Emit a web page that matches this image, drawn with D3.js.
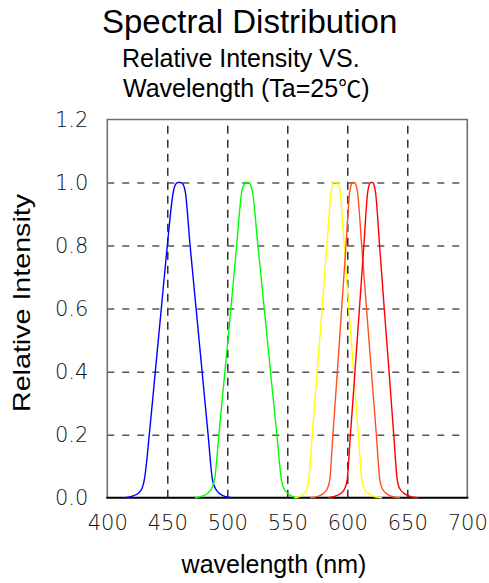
<!DOCTYPE html>
<html>
<head>
<meta charset="utf-8">
<script src="https://cdn.jsdelivr.net/npm/d3@7"></script>
<style>
html,body{margin:0;padding:0;background:#fff;}
svg{display:block;}
</style>
</head>
<body>
<svg id="chart" width="489" height="583"></svg>
<script>
// ---- data ----
const xTicks = [400, 450, 500, 550, 600, 650, 700];
const yTicks = [0.0, 0.2, 0.4, 0.6, 0.8, 1.0, 1.2];
const seriesNames = ["Blue", "Green", "Yellow", "Orange", "Red"];
const seriesColors = ["#0000ff", "#00ff00", "#ffff00", "#ff5020", "#ff0000"];
const blue = [[415,0],[421,0.005],[426,0.015],[429,0.03],[431,0.06],[435,0.2],[440,0.4],[445,0.6],[450,0.8],[455,0.97],[457,0.995],[459,1],[461,1],[463,0.995],[465,0.97],[469,0.8],[474,0.6],[479,0.4],[484,0.2],[487.5,0.06],[490,0.03],[494,0.012],[499,0.003],[504,0]];
const green = [[473,0],[479,0.005],[484,0.015],[487,0.03],[489.5,0.06],[493,0.2],[498,0.4],[503,0.6],[507.8,0.8],[512,0.97],[514,0.995],[515.5,1],[517.5,1],[519,0.995],[521,0.97],[525.5,0.8],[530.8,0.6],[536,0.4],[541.3,0.2],[545,0.06],[547,0.03],[551,0.012],[555,0.003],[559,0]];
const yellow = [[556,0],[561,0.005],[564.5,0.015],[566.5,0.03],[568,0.06],[570.8,0.2],[574.9,0.4],[579,0.6],[583,0.8],[586.5,0.97],[588,0.995],[589.5,1],[591,1],[592.5,0.995],[594,0.97],[597.4,0.8],[601.3,0.6],[605.3,0.4],[609.2,0.2],[612,0.06],[614,0.03],[618,0.012],[623,0.003],[629,0]];
const orange = [[569,0],[576,0.005],[580.5,0.015],[583.5,0.03],[585.5,0.06],[588,0.2],[591.7,0.4],[595.3,0.6],[598.9,0.8],[602,0.97],[603.5,0.995],[604.5,1],[606,1],[607,0.995],[608.5,0.97],[612,0.8],[616,0.6],[620.1,0.4],[624.2,0.2],[627,0.06],[629,0.03],[633,0.012],[638,0.003],[644,0]];
const red = [[584,0],[590,0.005],[595,0.015],[598,0.03],[600,0.06],[602.6,0.2],[606.4,0.4],[610.1,0.6],[613.8,0.8],[617,0.97],[618.5,0.995],[619.5,1],[621,1],[622,0.995],[623.5,0.97],[626.9,0.8],[630.8,0.6],[634.8,0.4],[638.7,0.2],[641.5,0.06],[643.5,0.03],[648,0.012],[653,0.003],[659,0]];
const seriesData = [blue, green, yellow, orange, red];

// ---- layout ----
const svg = d3.select("#chart");
const L = 107.3, R = 467.3, T = 119.5, B = 497.7;
const x = d3.scaleLinear().domain([400, 700]).range([L, R]);
const y = d3.scaleLinear().domain([0, 1.2]).range([B, T]);
const sans = "'Liberation Sans', Arial, sans-serif";

// titles
svg.append("text").attr("x", 102).attr("y", 33)
  .style("font-family", sans).style("font-size", "33px")
  .text("Spectral Distribution");
svg.append("text").attr("x", 122).attr("y", 67)
  .style("font-family", sans).style("font-size", "25px")
  .text("Relative Intensity VS.");
const sub2 = svg.append("text").attr("x", 123).attr("y", 97)
  .style("font-family", sans).style("font-size", "25px");
sub2.append("tspan").text("Wavelength (Ta=25");
sub2.append("tspan").style("font-family", "'Noto Sans CJK JP', sans-serif").style("font-size", "23px").text("℃");
sub2.append("tspan").text(")");

// grid
const gx = svg.append("g").attr("transform", `translate(0,${B})`)
  .call(d3.axisBottom(x).tickValues(xTicks.slice(1, -1)).tickSize(-(B - T)).tickFormat(""));
gx.select(".domain").remove();
gx.selectAll("line").attr("stroke", "#111").attr("stroke-width", 1.3).attr("stroke-dasharray", "8,6");
const gy = svg.append("g").attr("transform", `translate(${L},0)`)
  .call(d3.axisLeft(y).tickValues(yTicks.slice(1, -1)).tickSize(-(R - L)).tickFormat(""));
gy.select(".domain").remove();
gy.selectAll("line").attr("stroke", "#555").attr("stroke-width", 1.5).attr("stroke-dasharray", "7,8");

// frame
svg.append("path").attr("d", `M${L},${B}V${T}H${R}V${B}`)
  .attr("fill", "none").attr("stroke", "#707070").attr("stroke-width", 1.6);
svg.append("line").attr("x1", L - 1).attr("x2", R + 1).attr("y1", B).attr("y2", B)
  .attr("stroke", "#000").attr("stroke-width", 2);

// tick labels
const tickFont = "'DejaVu Sans', sans-serif";
const ax = svg.append("g").attr("transform", `translate(0,${B})`)
  .call(d3.axisBottom(x).tickValues(xTicks).tickSize(0).tickPadding(17).tickFormat(d3.format("d")));
ax.select(".domain").remove();
ax.selectAll("text").style("font-family", tickFont).style("font-weight", 200)
  .style("font-size", "21px").attr("fill", "#111");
const ay = svg.append("g").attr("transform", `translate(${L},0)`)
  .call(d3.axisLeft(y).tickValues(yTicks).tickSize(0).tickPadding(19).tickFormat(d3.format(".1f")));
ay.select(".domain").remove();
ay.selectAll("text").style("font-family", tickFont).style("font-weight", 200)
  .style("font-size", "21px").attr("fill", "#111");

// axis titles
svg.append("text").attr("x", 274).attr("y", 573).attr("text-anchor", "middle")
  .style("font-family", sans).style("font-size", "25px")
  .text("wavelength (nm)");
svg.append("text").attr("transform", "translate(30,303) rotate(-90)").attr("text-anchor", "middle")
  .attr("textLength", 218).attr("lengthAdjust", "spacingAndGlyphs")
  .style("font-family", sans).style("font-size", "24px")
  .text("Relative Intensity");

// curves
const line = d3.line().x(d => x(d[0])).y(d => y(d[1])).curve(d3.curveMonotoneX);
svg.append("g").selectAll("path").data(seriesData).join("path")
  .attr("d", line).attr("fill", "none")
  .attr("stroke", (d, i) => seriesColors[i]).attr("stroke-width", 1.4);
</script>
</body>
</html>
